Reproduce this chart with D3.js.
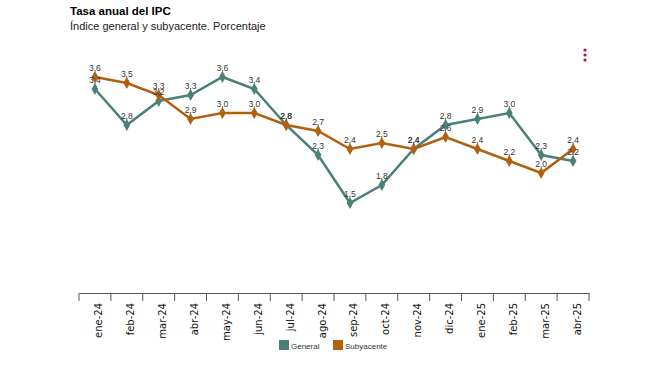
<!DOCTYPE html>
<html><head><meta charset="utf-8">
<script src="https://cdn.jsdelivr.net/npm/d3@7"></script>
<style>body{margin:0;background:#fff;font-family:"Liberation Sans",Arial,sans-serif}</style>
</head><body><svg id="c" width="659" height="371"></svg>
<script>
const categories = ["ene-24","feb-24","mar-24","abr-24","may-24","jun-24","jul-24","ago-24","sep-24","oct-24","nov-24","dic-24","ene-25","feb-25","mar-25","abr-25"];
const general = [3.4,2.8,3.2,3.3,3.6,3.4,2.8,2.3,1.5,1.8,2.4,2.8,2.9,3.0,2.3,2.2];
const subyacente = [3.6,3.5,3.3,2.9,3.0,3.0,2.8,2.7,2.4,2.5,2.4,2.6,2.4,2.2,2.0,2.4];
const seriesNames = ["General","Subyacente"];
const colors = ["#4b8078","#b0600f"];

const svg = d3.select("#c");
svg.append("text").attr("x",70).attr("y",15).attr("font-size",11.5).attr("font-weight","bold").attr("fill","#000").text("Tasa anual del IPC");
svg.append("text").attr("x",70).attr("y",30).attr("font-size",11).attr("fill","#222").text("Índice general y subyacente. Porcentaje");

const x = d3.scaleBand().domain(categories).range([79,589]).padding(0);
const y = d3.scaleLinear().domain([0,4]).range([293,53]);

const axis = svg.append("g").attr("transform","translate(0,293)")
  .call(d3.axisBottom(x).tickSizeInner(0).tickSizeOuter(0).tickFormat(d=>d));
axis.select(".domain").attr("stroke","#555").attr("stroke-width",1);
axis.selectAll(".tick line").remove();
axis.selectAll(".tick text").attr("transform","rotate(-90)").attr("text-anchor","end")
  .attr("x",-10).attr("y",4).attr("dx",0).attr("dy","0.35em").attr("font-size",10).attr("fill","#111")
  .attr("font-family","'DejaVu Sans',sans-serif").attr("font-weight","normal");
// boundary ticks
const bounds = categories.map(c=>x(c)).concat([x(categories[categories.length-1])+x.bandwidth()]);
svg.append("g").selectAll("line").data(bounds).join("line")
  .attr("x1",d=>d).attr("x2",d=>d).attr("y1",293).attr("y2",301).attr("stroke","#555").attr("stroke-width",1);

const data = [general, subyacente];
const line = d3.line().x((d,i)=>x(categories[i])+x.bandwidth()/2).y(d=>y(d));
const diamond = d3.symbol().type(d3.symbolDiamond).size(40);
data.forEach((vals,k)=>{
  const g = svg.append("g");
  g.append("path").datum(vals).attr("d",line).attr("fill","none").attr("stroke",colors[k]).attr("stroke-width",2.5);
  g.selectAll("path.m").data(vals).join("path").attr("class","m")
    .attr("transform",(d,i)=>`translate(${x(categories[i])+x.bandwidth()/2},${y(d)})`)
    .attr("d",diamond).attr("fill",colors[k]);
});
data.forEach((vals,k)=>{
  svg.append("g").selectAll("text").data(vals).join("text")
    .attr("x",(d,i)=>x(categories[i])+x.bandwidth()/2).attr("y",d=>y(d)-6)
    .attr("text-anchor","middle").attr("font-size",8.5).attr("fill","#333")
    .text(d=>d.toFixed(1).replace(".",","));
});

// legend
const leg = svg.append("g").attr("transform","translate(279,340)");
const items = [{n:seriesNames[0],c:colors[0],x:0},{n:seriesNames[1],c:colors[1],x:54}];
items.forEach(it=>{
  leg.append("rect").attr("x",it.x).attr("y",0).attr("width",10).attr("height",10).attr("fill",it.c);
  leg.append("text").attr("x",it.x+12).attr("y",8.5).attr("font-size",8).attr("fill","#333").text(it.n);
});

// menu dots
svg.append("g").selectAll("circle").data([50,55,60]).join("circle")
  .attr("cx",585).attr("cy",d=>d).attr("r",1.6).attr("fill","#b5123e");
</script></body></html>
